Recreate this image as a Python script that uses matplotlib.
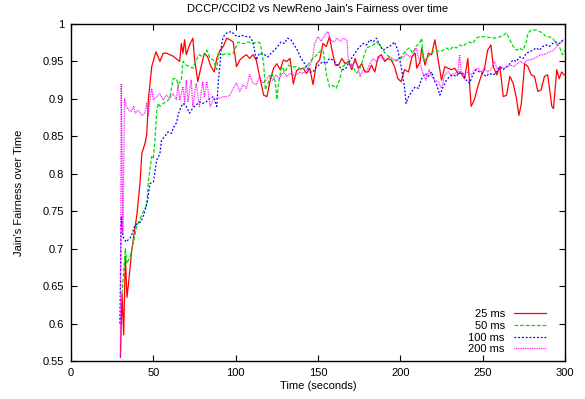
import matplotlib
matplotlib.use("Agg")
import matplotlib.pyplot as plt

plt.rcParams['font.family'] = ['Liberation Sans', 'DejaVu Sans']

title = "DCCP/CCID2 vs NewReno Jain's Fairness over time"
xlabel = "Time (seconds)"
ylabel = "Jain's Fairness over Time"
labels = ["25 ms", "50 ms", "100 ms", "200 ms"]
xticks = [0, 50, 100, 150, 200, 250, 300]
yticks = [0.55, 0.6, 0.65, 0.7, 0.75, 0.8, 0.85, 0.9, 0.95, 1.0]

t25 = [30, 31, 32, 33, 34, 35, 37, 40, 42, 43, 45, 46, 47, 49, 51.6, 54, 56, 58, 62, 66, 67, 68, 69, 70, 72, 74, 75, 77, 79, 81, 83, 85, 87, 88.5, 90.5, 92.5, 94.5, 96.5, 98.5, 100.5, 102.5, 104.5, 106.5, 108.5, 110.5, 112.5, 115, 117, 119, 121, 123, 125, 127, 129, 131, 133, 135, 137, 139, 141, 143, 145, 147, 149, 151, 153, 155, 157, 158.5, 160.5, 162.5, 164.5, 166.5, 168.5, 170.5, 172.5, 174.5, 176.5, 178.5, 180.5, 182.5, 184.5, 186.5, 188.5, 190.5, 192.5, 194.5, 196.5, 198.5, 200.5, 202.5, 205, 207, 209, 210, 212, 213, 215, 217, 219, 221, 223, 225, 227, 229, 231, 233, 235, 237, 239, 241, 243, 245, 247, 249, 251, 253, 255, 256.5, 258.5, 260.5, 262.5, 264.5, 266.5, 268.5, 270.5, 272, 273.5, 275.5, 277.5, 279.5, 281.5, 283.5, 285.5, 287.5, 289.5, 292, 293, 295, 296.5, 298, 299.5]
v25 = [0.555, 0.64, 0.585, 0.69, 0.635, 0.655, 0.70, 0.745, 0.79, 0.827, 0.841, 0.852, 0.899, 0.943, 0.963, 0.950, 0.961, 0.961, 0.957, 0.950, 0.974, 0.961, 0.979, 0.959, 0.972, 0.981, 0.954, 0.923, 0.943, 0.961, 0.956, 0.943, 0.936, 0.954, 0.965, 0.970, 0.981, 0.979, 0.976, 0.943, 0.952, 0.956, 0.959, 0.954, 0.959, 0.952, 0.925, 0.905, 0.903, 0.925, 0.941, 0.947, 0.939, 0.952, 0.950, 0.954, 0.920, 0.938, 0.940, 0.941, 0.934, 0.941, 0.919, 0.947, 0.952, 0.974, 0.970, 0.983, 0.965, 0.945, 0.945, 0.954, 0.947, 0.950, 0.939, 0.954, 0.941, 0.947, 0.936, 0.936, 0.945, 0.936, 0.956, 0.959, 0.950, 0.954, 0.952, 0.943, 0.927, 0.923, 0.939, 0.936, 0.956, 0.961, 0.941, 0.950, 0.968, 0.945, 0.961, 0.959, 0.979, 0.952, 0.925, 0.943, 0.941, 0.939, 0.941, 0.934, 0.934, 0.927, 0.954, 0.890, 0.899, 0.916, 0.930, 0.939, 0.965, 0.972, 0.943, 0.932, 0.943, 0.903, 0.905, 0.930, 0.921, 0.901, 0.878, 0.894, 0.947, 0.943, 0.932, 0.930, 0.910, 0.912, 0.930, 0.932, 0.890, 0.887, 0.939, 0.927, 0.936, 0.932]

t50 = [31, 33, 34, 36, 38, 40, 42, 44, 46, 47, 49, 50, 51, 52, 53, 54, 56, 58, 60, 62, 64, 65, 67, 68, 70, 72, 74, 76, 78, 80, 82.5, 84.5, 86.5, 88.5, 89.5, 90.5, 92.5, 94.5, 96.5, 98.5, 101.5, 103.5, 105.5, 107.5, 110.5, 113.5, 115, 117, 118, 120, 122, 124, 125, 126, 128, 130, 132, 134, 137, 140, 143, 146, 149, 151, 153, 154, 155, 157, 159, 161, 163, 165, 167, 169, 171, 173.5, 175.5, 177.5, 179.5, 181.5, 183.5, 185.5, 187.5, 189.5, 191.5, 193.5, 195.5, 197.5, 199.5, 201.5, 203.5, 205.5, 207.5, 209.5, 211.5, 213, 214, 216, 218, 220, 222, 224, 226, 228, 230, 232, 234, 236, 238, 240, 242, 244, 246, 248, 252, 256.5, 260.5, 262.5, 264.5, 266.5, 268.5, 270.5, 272.5, 274.5, 276.5, 277.5, 279.5, 282.5, 284.5, 286.5, 288.5, 290.5, 292.5, 294.5, 296.5, 298.5, 300]
v50 = [0.64, 0.70, 0.68, 0.69, 0.71, 0.73, 0.74, 0.75, 0.758, 0.79, 0.823, 0.82, 0.845, 0.883, 0.894, 0.890, 0.894, 0.896, 0.901, 0.927, 0.927, 0.919, 0.925, 0.950, 0.945, 0.943, 0.941, 0.952, 0.959, 0.956, 0.965, 0.954, 0.952, 0.939, 0.961, 0.959, 0.959, 0.961, 0.959, 0.961, 0.976, 0.974, 0.974, 0.976, 0.974, 0.976, 0.974, 0.947, 0.912, 0.923, 0.934, 0.923, 0.899, 0.921, 0.943, 0.936, 0.945, 0.943, 0.943, 0.939, 0.943, 0.952, 0.958, 0.963, 0.965, 0.952, 0.934, 0.916, 0.918, 0.914, 0.925, 0.943, 0.947, 0.950, 0.943, 0.934, 0.941, 0.954, 0.968, 0.970, 0.972, 0.976, 0.972, 0.965, 0.959, 0.956, 0.950, 0.952, 0.952, 0.959, 0.965, 0.968, 0.961, 0.970, 0.974, 0.981, 0.950, 0.954, 0.959, 0.963, 0.965, 0.963, 0.965, 0.968, 0.965, 0.970, 0.968, 0.972, 0.970, 0.974, 0.976, 0.974, 0.981, 0.983, 0.983, 0.981, 0.983, 0.985, 0.988, 0.979, 0.970, 0.965, 0.968, 0.965, 0.976, 0.988, 0.992, 0.992, 0.990, 0.988, 0.983, 0.983, 0.981, 0.974, 0.970, 0.959, 0.965]

t100 = [29.7, 30.5, 31.5, 33.5, 36.5, 38.5, 40.5, 42.5, 44.5, 46.5, 48, 50, 52, 54, 55, 57, 59, 61, 62, 64, 65, 66, 68, 70, 72, 74, 76, 78, 80, 82, 84.5, 86.5, 88.5, 89.5, 90.5, 91.5, 92.5, 94.5, 97.5, 99.5, 101.5, 103.5, 106.5, 108.5, 110.5, 112.5, 114.5, 117.5, 119.5, 121.5, 123.5, 125.5, 127.5, 129.5, 131.5, 133.5, 135.5, 137.5, 139.5, 141, 143, 145, 147, 149, 151, 153, 155, 157, 159, 161, 163, 165, 167, 169, 171, 173.5, 175.5, 177.5, 179.5, 181.5, 183.5, 185.5, 187.5, 189.5, 191.5, 193.5, 196.5, 198.5, 200.5, 202.5, 203.5, 205, 207, 209, 211, 213, 215, 217, 219, 221, 222, 224, 226, 228, 230, 232, 234, 236, 238, 240, 242, 244, 246, 248, 250, 252, 254, 256.5, 258.5, 260.5, 262.5, 264.5, 266.5, 268.5, 270.5, 272.5, 274.5, 276.5, 278.5, 280.5, 282.5, 284.5, 286.5, 288.5, 290.5, 292.5, 294.5, 296.5, 299]
v100 = [0.60, 0.743, 0.716, 0.709, 0.716, 0.729, 0.734, 0.736, 0.747, 0.765, 0.787, 0.789, 0.818, 0.827, 0.845, 0.850, 0.856, 0.854, 0.861, 0.868, 0.878, 0.885, 0.894, 0.890, 0.881, 0.888, 0.892, 0.896, 0.894, 0.896, 0.901, 0.903, 0.890, 0.925, 0.947, 0.974, 0.983, 0.988, 0.990, 0.985, 0.983, 0.985, 0.983, 0.983, 0.976, 0.952, 0.961, 0.959, 0.956, 0.961, 0.965, 0.970, 0.976, 0.974, 0.981, 0.979, 0.972, 0.965, 0.955, 0.950, 0.943, 0.936, 0.936, 0.943, 0.946, 0.950, 0.947, 0.954, 0.952, 0.947, 0.943, 0.939, 0.941, 0.950, 0.956, 0.965, 0.970, 0.974, 0.972, 0.979, 0.976, 0.981, 0.972, 0.965, 0.968, 0.970, 0.976, 0.965, 0.943, 0.916, 0.894, 0.903, 0.910, 0.916, 0.914, 0.927, 0.934, 0.930, 0.936, 0.923, 0.919, 0.905, 0.916, 0.925, 0.930, 0.932, 0.930, 0.936, 0.934, 0.925, 0.921, 0.932, 0.939, 0.936, 0.934, 0.930, 0.934, 0.932, 0.936, 0.943, 0.939, 0.943, 0.947, 0.952, 0.950, 0.956, 0.954, 0.961, 0.963, 0.965, 0.968, 0.965, 0.970, 0.972, 0.970, 0.974, 0.976, 0.974, 0.979]

t200 = [30, 30.5, 31.5, 32.5, 33.5, 35, 36.5, 38, 39, 41, 43, 45, 46, 47, 48, 49, 50, 52, 54, 56, 58, 60, 62, 64, 65, 66, 68, 69, 70, 71, 73, 74, 76, 78, 80, 81, 82.5, 84.5, 86.5, 88.5, 90.5, 92.5, 94.5, 96.5, 98.5, 100.5, 102.5, 104.5, 106.5, 108.5, 110.5, 112.5, 114.5, 116.5, 118.5, 120.5, 122.5, 124.5, 126.5, 129, 131, 133, 135, 137, 139, 141, 143, 145, 146.5, 148, 150, 152, 154, 156, 157.5, 159.5, 161.5, 163.5, 165.5, 167.5, 168.5, 170.5, 172.5, 174.5, 175.5, 177.5, 179.5, 181.5, 183.5, 185.5, 187.5, 189.5, 191.5, 193.5, 195.5, 197.5, 199.5, 201.5, 203.5, 205.5, 207.5, 209.5, 211.5, 213.5, 215.5, 217.5, 219, 221, 223, 225, 227, 229, 231, 233, 235, 236, 237, 239, 241, 243, 245, 247, 249, 251, 253, 255, 257, 259, 261, 263, 265, 267, 269, 271, 273, 275, 277, 279, 281, 283, 285, 287, 289, 291, 293, 295, 297, 299]
v200 = [0.556, 0.92, 0.72, 0.90, 0.890, 0.885, 0.883, 0.890, 0.881, 0.885, 0.878, 0.881, 0.894, 0.878, 0.899, 0.914, 0.899, 0.903, 0.907, 0.899, 0.905, 0.901, 0.907, 0.899, 0.919, 0.899, 0.916, 0.894, 0.925, 0.896, 0.925, 0.890, 0.921, 0.890, 0.923, 0.903, 0.923, 0.890, 0.899, 0.901, 0.901, 0.903, 0.903, 0.905, 0.914, 0.921, 0.910, 0.919, 0.914, 0.932, 0.921, 0.919, 0.930, 0.921, 0.925, 0.932, 0.925, 0.932, 0.927, 0.936, 0.930, 0.934, 0.932, 0.932, 0.936, 0.934, 0.939, 0.945, 0.952, 0.974, 0.983, 0.977, 0.985, 0.990, 0.979, 0.976, 0.981, 0.977, 0.981, 0.979, 0.950, 0.943, 0.950, 0.941, 0.930, 0.939, 0.936, 0.947, 0.954, 0.950, 0.956, 0.954, 0.952, 0.956, 0.954, 0.950, 0.956, 0.954, 0.961, 0.956, 0.959, 0.968, 0.952, 0.936, 0.925, 0.939, 0.930, 0.925, 0.923, 0.914, 0.932, 0.936, 0.932, 0.934, 0.936, 0.959, 0.936, 0.932, 0.936, 0.932, 0.939, 0.941, 0.936, 0.941, 0.936, 0.939, 0.950, 0.939, 0.943, 0.941, 0.943, 0.945, 0.943, 0.947, 0.950, 0.947, 0.952, 0.952, 0.954, 0.956, 0.959, 0.959, 0.961, 0.963, 0.965, 0.970, 0.974, 0.979]

fig = plt.figure(figsize=(5.85, 3.99), dpi=100)
ax = fig.add_axes([71/585, 1 - 361/399, (565 - 71)/585, (361 - 24)/399])

ax.plot(t25, v25, color='#ff0000', lw=0.9, linestyle='-', label=labels[0])
ax.plot(t50, v50, color='#00e000', lw=0.9, linestyle=(0, (3, 1.5)), label=labels[1])
ax.plot(t100, v100, color='#0000ff', lw=0.9, linestyle=(0, (1.5, 1.5)), label=labels[2])
ax.plot(t200, v200, color='#ff00ff', lw=0.9, linestyle=(0, (0.7, 0.7)), label=labels[3])

ax.set_xlim(0, 300)
ax.set_ylim(0.55, 1.0)
ax.set_xticks(xticks)
ax.set_xticklabels([f"{v:g}" for v in xticks])
ax.set_yticks(yticks)
ax.set_yticklabels([f"{v:g}" for v in yticks])
ax.tick_params(direction='in', top=True, right=True, length=4, width=0.8,
               labelsize=8, pad=5)
for s in ax.spines.values():
    s.set_linewidth(1.0)

ax.set_title(title, fontsize=8, pad=9)
ax.set_xlabel(xlabel, fontsize=8, labelpad=2)
ax.set_ylabel(ylabel, fontsize=8, labelpad=13)

leg = ax.legend(loc='lower right', bbox_to_anchor=(0.975, 0.0), markerfirst=False,
                frameon=False, fontsize=8, handlelength=2.9, handletextpad=0.8,
                labelspacing=0.15, borderaxespad=0.2)
for txt in leg.get_texts():
    txt.set_ha('right')

fig.savefig('out.png', dpi=100)
